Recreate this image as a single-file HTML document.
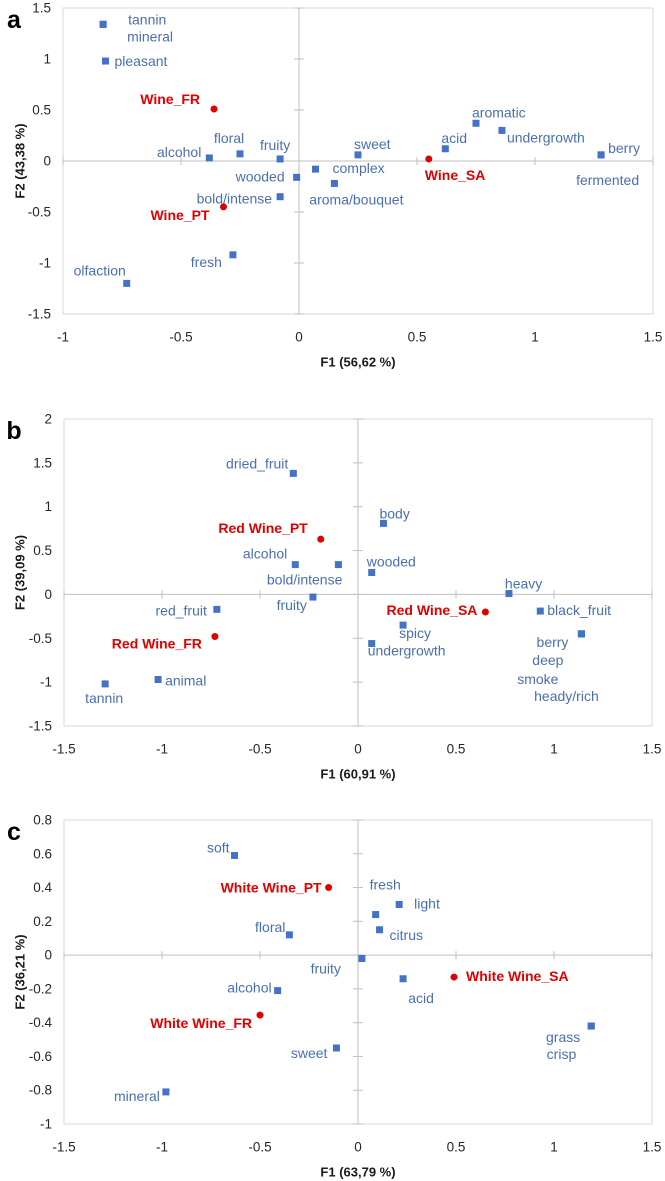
<!DOCTYPE html>
<html><head><meta charset="utf-8"><style>
html,body{margin:0;padding:0;background:#fff;}
svg{display:block;font-family:"Liberation Sans",Arial,sans-serif;}
.tick{font-size:13.5px;fill:#262626;}
.lbl{font-size:14px;fill:#4a6fb0;}
.wine{font-size:14px;fill:#e00000;font-weight:bold;}
.ttl{font-size:13px;font-weight:bold;fill:#1a1a1a;}
</style></head><body>
<svg id="chart" width="665" height="1181" viewBox="0 0 665 1181"></svg>
<script>
// ---- Panel a data ----
const aNames = ["tannin","mineral","pleasant","Wine_FR","alcohol","floral","fruity","wooded","complex","aroma/bouquet","sweet","bold/intense","Wine_PT","fresh","olfaction","Wine_SA","acid","aromatic","undergrowth","berry","fermented"];
const aF1 = [-0.83,-0.83,-0.82,-0.36,-0.38,-0.25,-0.08,-0.01,0.07,0.15,0.25,-0.08,-0.32,-0.28,-0.73,0.55,0.62,0.75,0.86,1.28,1.28];
const aF2 = [1.34,1.34,0.98,0.51,0.03,0.07,0.02,-0.16,-0.08,-0.22,0.06,-0.35,-0.45,-0.92,-1.2,0.02,0.12,0.37,0.3,0.06,0.06];
const aXTicks = ["-1","-0.5","0","0.5","1","1.5"];
const aYTicks = ["1.5","1","0.5","0","-0.5","-1","-1.5"];
// ---- Panel b data ----
const bNames = ["dried_fruit","Red Wine_PT","alcohol","bold/intense","fruity","red_fruit","Red Wine_FR","animal","tannin","body","wooded","heavy","Red Wine_SA","spicy","undergrowth","black_fruit","berry","deep","smoke","heady/rich"];
const bF1 = [-0.33,-0.19,-0.32,-0.10,-0.23,-0.72,-0.73,-1.02,-1.29,0.13,0.07,0.77,0.65,0.23,0.07,0.93,1.14,1.14,1.14,1.14];
const bF2 = [1.38,0.63,0.34,0.34,-0.03,-0.17,-0.48,-0.97,-1.02,0.81,0.25,0.01,-0.2,-0.35,-0.56,-0.19,-0.45,-0.45,-0.45,-0.45];
const bXTicks = ["-1.5","-1","-0.5","0","0.5","1","1.5"];
const bYTicks = ["2","1.5","1","0.5","0","-0.5","-1","-1.5"];
// ---- Panel c data ----
const cNames = ["soft","White Wine_PT","floral","alcohol","White Wine_FR","sweet","mineral","fruity","fresh","light","citrus","acid","White Wine_SA","grass","crisp"];
const cF1 = [-0.63,-0.15,-0.35,-0.41,-0.50,-0.11,-0.98,0.02,0.09,0.21,0.11,0.23,0.49,1.19,1.19];
const cF2 = [0.59,0.40,0.12,-0.21,-0.355,-0.55,-0.81,-0.02,0.24,0.30,0.15,-0.14,-0.13,-0.42,-0.42];
const cXTicks = ["-1.5","-1","-0.5","0","0.5","1","1.5"];
const cYTicks = ["0.8","0.6","0.4","0.2","0","-0.2","-0.4","-0.6","-0.8","-1"];

// label placement (styling): [anchor, dx, dy]
const aPlace = [["start",25,-5],["start",24,12],["start",9,0],["end",-14,-10],["end",-8,-6],["middle",-11,-16],["middle",-5,-14],["end",-12,-1],["start",17,-1],["middle",22,16],["start",-4,-11],["end",-8,2],["end",-14,8],["end",-11,7],["middle",-27,-13],["start",-4,16],["start",-4,-11],["start",-4,-11],["start",5,7],["start",7,-7],["start",-25,25]];
const bPlace = [["end",-5,-10],["end",-13,-11],["end",-8,-11],["end",4,15],["end",-6,8],["end",-10,1],["end",-13,7],["start",7,1],["middle",-1,14],["start",-4,-10],["start",-5,-11],["start",-4,-10],["end",-8,-2],["start",-4,8],["start",-4,7],["start",7,-1],["end",-13,8],["end",-18,26],["end",-23,45],["middle",-15,62]];
const cPlace = [["end",-5,-8],["end",-7,0],["end",-4,-8],["end",-6,-3],["end",-8,8],["end",-9,5],["end",-6,4],["end",-21,10],["start",-6,-30],["start",15,-1],["start",10,5],["middle",18,19],["start",12,-1],["end",-11,11],["end",-15,28]];

const svg = document.getElementById('chart');
const NS = 'http://www.w3.org/2000/svg';
function mk(tag, attrs, parent){const e=document.createElementNS(NS,tag);for(const k in attrs)e.setAttribute(k,attrs[k]);(parent||svg).appendChild(e);return e;}

function panel(p){
  const g = mk('g',{});
  
  
  const sx = v => p.left + (v - p.xmin) / (p.xmax - p.xmin) * (p.right - p.left);
  const sy = v => p.bottom - (v - p.ymin) / (p.ymax - p.ymin) * (p.bottom - p.top);
  const box = mk('rect',{x:p.left,y:p.top,width:p.right-p.left,height:p.bottom-p.top,fill:'none',stroke:'#d9d9d9','stroke-width':1},g);
  
  
  const x0 = sx(0), y0 = sy(0);
  const vl = mk('line',{x1:x0,x2:x0,y1:p.top,y2:p.bottom,stroke:'#bfbfbf'},g);
  
  
  const hl = mk('line',{x1:p.left,x2:p.right,y1:y0,y2:y0,stroke:'#bfbfbf'},g);
  
  
  p.yt.forEach(t=>{
    const v = parseFloat(t), y = sy(v);
    mk('line',{x1:x0-5,x2:x0+5,y1:y,y2:y,stroke:'#bfbfbf'},g);
    const tx = mk('text',{x:p.left-12,y:y,'text-anchor':'end','dominant-baseline':'central',class:'tick'},g);
    tx.textContent = t;
    
    
  });
  p.xt.forEach(t=>{
    const v = parseFloat(t), x = sx(v);
    mk('line',{x1:x,x2:x,y1:y0-4,y2:y0+4,stroke:'#bfbfbf'},g);
    const tx = mk('text',{x:x,y:p.bottom+23,'text-anchor':'middle','dominant-baseline':'central',class:'tick'},g);
    tx.textContent = t;
    
    
  });
  const xt = mk('text',{x:(p.left+p.right)/2,y:p.bottom+48,'text-anchor':'middle','dominant-baseline':'central',class:'ttl'},g);
  xt.textContent = p.xtitle;
  
  
  const ym = (p.top+p.bottom)/2;
  const yt = mk('text',{x:20,y:ym,'text-anchor':'middle','dominant-baseline':'central',class:'ttl',transform:'rotate(-90 20 '+ym+')'},g);
  yt.textContent = p.ytitle;
  
  
  const lt = mk('text',{x:14,y:p.top+12,'text-anchor':'middle','dominant-baseline':'central',style:'font-size:25px;font-weight:bold;fill:#000'},g);
  lt.textContent = p.id;
  
  
  p.names.forEach((n,i)=>{
    const x = sx(p.f1[i]), y = sy(p.f2[i]);
    const wine = n.indexOf('Wine') >= 0;
    let m;
    if (wine) { m = mk('circle',{cx:x,cy:y,r:3.5,fill:'#e00000'},g); }
    else { m = mk('rect',{x:x-3.5,y:y-3.5,width:7,height:7,fill:'#4472c4'},g); }
    
    
    const pl = p.place[i];
    const t = mk('text',{x:x+pl[1],y:y+pl[2],'text-anchor':pl[0],'dominant-baseline':'central',class:wine?'wine':'lbl'},g);
    t.textContent = n;
    
    
  });
}
panel({id:'a',left:63,right:653,top:8,bottom:314,xmin:-1,xmax:1.5,ymin:-1.5,ymax:1.5,xt:aXTicks,yt:aYTicks,names:aNames,f1:aF1,f2:aF2,place:aPlace,xtitle:'F1 (56,62 %)',ytitle:'F2 (43,38 %)'});
panel({id:'b',left:64,right:652,top:419,bottom:726,xmin:-1.5,xmax:1.5,ymin:-1.5,ymax:2,xt:bXTicks,yt:bYTicks,names:bNames,f1:bF1,f2:bF2,place:bPlace,xtitle:'F1 (60,91 %)',ytitle:'F2 (39,09 %)'});
panel({id:'c',left:64,right:652,top:820,bottom:1124,xmin:-1.5,xmax:1.5,ymin:-1,ymax:0.8,xt:cXTicks,yt:cYTicks,names:cNames,f1:cF1,f2:cF2,place:cPlace,xtitle:'F1 (63,79 %)',ytitle:'F2 (36,21 %)'});
</script>
</body></html>
